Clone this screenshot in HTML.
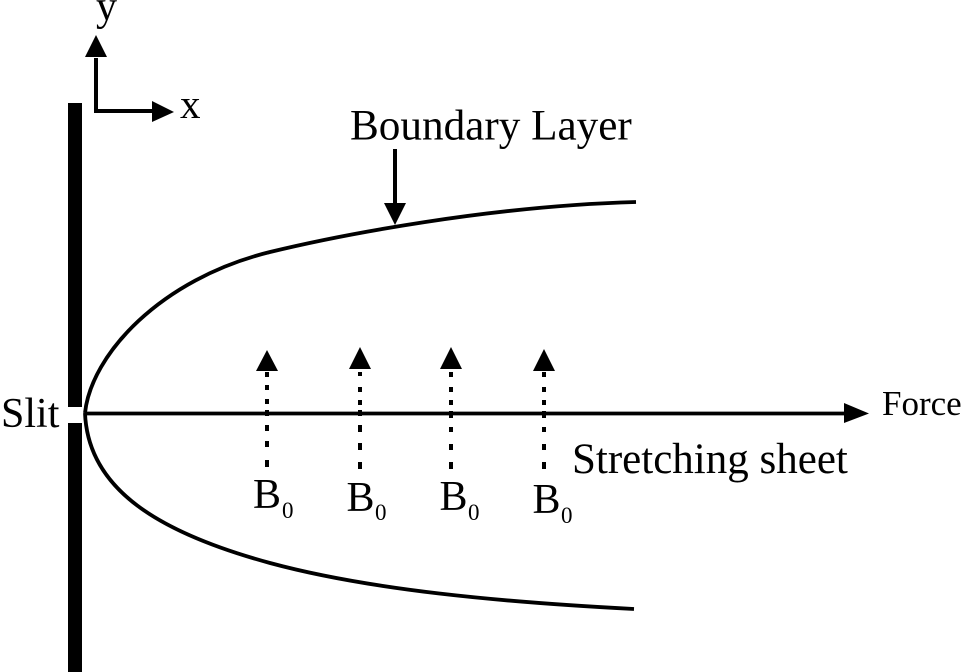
<!DOCTYPE html>
<html><head><meta charset="utf-8"><style>html,body{margin:0;padding:0;background:#fff}svg{display:block}text{font-family:"Liberation Serif",serif;fill:#000}</style></head><body>
<svg width="963" height="672" viewBox="0 0 963 672">
<rect x="68" y="103" width="14" height="304"/>
<rect x="68" y="423" width="14" height="249"/>
<g stroke="#000" fill="none">
<path d="M96 58V111M94 111H153" stroke-width="4"/>
<path d="M85 413.5H846" stroke-width="3.7"/>
<path d="M395 149V204" stroke-width="4"/>
<path d="M85 413C91 355 160 279 270 252C340 235 490 206 636 202" stroke-width="3.8"/>
<path d="M85 413C88 490 160 533 270 563C370 590 500 602 634 609" stroke-width="3.8"/>
<g stroke-width="4">
<path d="M267 372V377M267 385V390M267 399V404M267 410V416M267 425V431M267 441V447M267 460V467"/>
<path d="M360 372V376M360 387V392M360 400V405M360 410V416M360 425V432M360 443V450M360 462V469"/>
<path d="M451 372V377M451 387V392M451 400V405M451 411V418M451 427V432M451 444V450M451 462V469"/>
<path d="M544 372V377M544 387V392M544 400V405M544 411V418M544 427V432M544 444V450M544 462V469"/>
</g></g>
<path d="M96 35L85 57H107Z"/>
<path d="M174 112L152 101V122Z"/>
<path d="M395 225L384 203H406Z"/>
<path d="M869 413.5L844 403V423Z"/>
<path d="M267 350L256 371H278Z"/>
<path d="M360 347L349 369H371Z"/>
<path d="M451 347L440 369H462Z"/>
<path d="M544 349L533 371H555Z"/>
<text x="350" y="139.5" font-size="43.2">Boundary Layer</text>
<text x="572" y="473" font-size="43">Stretching sheet</text>
<text x="882" y="415" font-size="35">Force</text>
<text x="1" y="427" font-size="42">Slit</text>
<text x="180" y="118" font-size="41">x</text>
<text x="96" y="20" font-size="42">y</text>
<text x="253" y="508" font-size="42">B</text><text x="282" y="518" font-size="23">0</text>
<text x="346.5" y="511" font-size="42">B</text><text x="375" y="520" font-size="23">0</text>
<text x="439.5" y="510" font-size="42">B</text><text x="468" y="520" font-size="23">0</text>
<text x="532.5" y="513" font-size="42">B</text><text x="561" y="523" font-size="23">0</text>
</svg>
</body></html>
